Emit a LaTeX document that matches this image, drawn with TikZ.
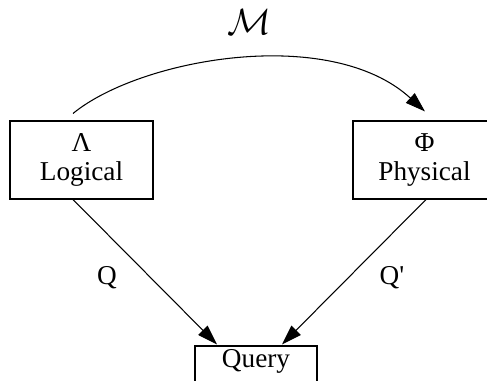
\documentclass[tikz,border=0pt]{standalone}
\usepackage{fontspec}
\setmainfont{Liberation Serif}
\usepackage{tikz}
\usetikzlibrary{arrows.meta,calc}

\begin{document}
\begin{tikzpicture}[
      x=0.02cm, y=-0.02cm,
      font=\fontsize{15.5}{16.5}\selectfont,
      space/.style={draw, line width=0.6pt, minimum width=2.86cm, minimum height=1.56cm, align=center, inner sep=0pt},
      qbox/.style={draw, line width=0.6pt, minimum width=2.44cm, text height=0.34cm, text depth=0.6cm, inner ysep=0.1cm},
      arr/.style={-{Triangle[length=0.4cm, width=0.26cm]}, line width=0.6pt}
    ]
      \useasboundingbox (0,0) rectangle (487,381);

      \node[space] (logical) at (81.5,160) {Λ\\Logical};
      \node[space] (physical) at (424.5,160) {Φ\\Physical};
      \node[qbox, anchor=base] (query) at (256,368) {Query};
      \node[font=\fontsize{20}{22}\selectfont] (mapping) at (249,22) {$\mathcal{M}$};

      \draw[arr] ($(logical.north)+(-8.5,-7)$) .. controls +(67,-55) and +(-95,-87) .. ($(physical.north)+(0.5,-9)$);
      \draw[arr] ($(logical.south)+(-8.5,0)$) -- node[pos=0.5, xshift=-0.76cm, yshift=-0.12cm] (qlabel) {Q} ($(query.north)+(-39,-1)$);
      \draw[arr] ($(physical.south)+(1.5,0)$) -- node[pos=0.5, xshift=0.76cm, yshift=-0.12cm] (qplabel) {Q\textquotesingle} ($(query.north)+(26,-1)$);
    \end{tikzpicture}
\end{document}
